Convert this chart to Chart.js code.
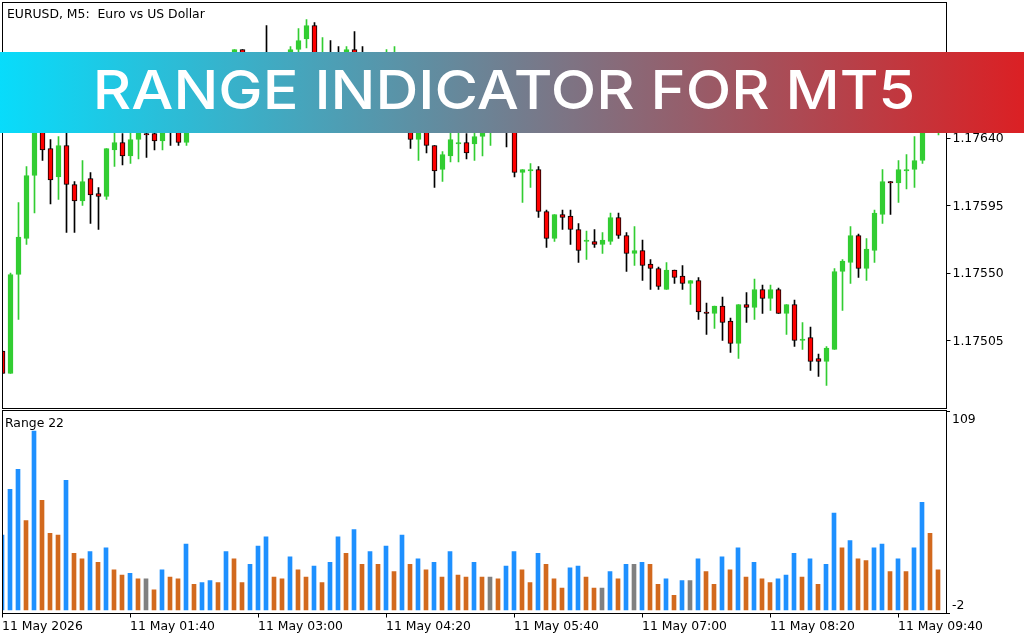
<!DOCTYPE html>
<html>
<head>
<meta charset="utf-8">
<title>Range indicator for MT5</title>
<script src="https://cdn.jsdelivr.net/npm/chart.js@4"></script>
<style>
  html, body { margin: 0; padding: 0; background: #fff; width: 1024px; height: 640px; overflow: hidden; }
  canvas { position: absolute; left: 0; }
  #priceCanvas { top: 0; }
  #rangeCanvas { top: 409px; }
  .caption { position: absolute; font: 12.4px "DejaVu Sans", sans-serif; color: #000; white-space: pre; }
  #banner {
    position: absolute; left: 0; top: 52px; width: 1024px; height: 81px;
    background: linear-gradient(to right, #08dcfb, #db2024);
  }
  #banner span {
    position: absolute; left: 504px; top: 0; white-space: nowrap;
    transform: translateX(-50%) scaleX(1.1);
    color: #fff; font: 500 54px/76px Inter, sans-serif;
  }
</style>
</head>
<body>
<canvas id="priceCanvas" width="1024" height="409"></canvas>
<canvas id="rangeCanvas" width="1024" height="231"></canvas>
<div class="caption" style="left:7px;top:6px">EURUSD, M5:  Euro vs US Dollar</div>
<div class="caption" style="left:5px;top:415px">Range 22</div>
<div id="banner"><span>RANGE INDICATOR FOR MT5</span></div>
<script>
// candles, 5 minute bars. the ones behind the banner are guessed
const opens = [
  1.17498,1.17483,1.17549,1.17573,1.17615,1.17652,1.17633,1.17614,1.17635,1.17609,
  1.17598,1.17613,1.17603,1.17601,1.17632,1.17637,1.17628,1.17639,1.17643,1.17643,
  1.17638,1.17652,1.17645,1.17637,1.17647,1.17659,1.17669,1.17662,1.17679,1.17691,
  1.17699,1.17687,1.17675,1.17687,1.17679,1.17689,1.17693,1.17699,1.17706,1.17715,
  1.17691,1.17695,1.17689,1.17689,1.17699,1.17687,1.17677,1.17682,1.17691,1.17679,
  1.17680,1.17659,1.17639,1.17652,1.17635,1.17619,1.17628,1.17636,1.17637,1.17636,
  1.17641,1.17647,1.17653,1.17669,1.17652,1.17617,1.17618,1.17619,1.17591,1.17573,
  1.17589,1.17588,1.17579,1.17571,1.17571,1.17569,1.17571,1.17587,1.17575,1.17563,
  1.17565,1.17556,1.17553,1.17539,1.17552,1.17548,1.17543,1.17545,1.17524,1.17523,
  1.17528,1.17518,1.17503,1.17529,1.17527,1.17539,1.17533,1.17539,1.17523,1.17529,
  1.17505,1.17507,1.17493,1.17491,1.17499,1.17551,1.17557,1.17575,1.17553,1.17565,
  1.17589,1.17611,1.17610,1.17618,1.17619,1.17625,1.17652,1.17662
];
const closes = [
  1.17483,1.17549,1.17574,1.17615,1.17649,1.17632,1.17612,1.17635,1.17609,1.17598,
  1.17611,1.17602,1.17601,1.17633,1.17637,1.17628,1.17639,1.17649,1.17642,1.17638,
  1.17645,1.17647,1.17637,1.17647,1.17659,1.17669,1.17662,1.17679,1.17691,1.17699,
  1.17685,1.17675,1.17685,1.17679,1.17689,1.17695,1.17699,1.17705,1.17715,1.17691,
  1.17695,1.17687,1.17679,1.17699,1.17685,1.17677,1.17682,1.17691,1.17697,1.17689,
  1.17659,1.17639,1.17653,1.17635,1.17618,1.17629,1.17639,1.17637,1.17630,1.17641,
  1.17649,1.17653,1.17665,1.17651,1.17617,1.17619,1.17619,1.17591,1.17573,1.17589,
  1.17587,1.17579,1.17565,1.17572,1.17569,1.17572,1.17587,1.17575,1.17563,1.17565,
  1.17555,1.17553,1.17541,1.17552,1.17547,1.17543,1.17545,1.17524,1.17523,1.17528,
  1.17517,1.17503,1.17529,1.17527,1.17539,1.17533,1.17539,1.17523,1.17529,1.17505,
  1.17506,1.17491,1.17491,1.17500,1.17551,1.17558,1.17575,1.17553,1.17566,1.17590,
  1.17611,1.17610,1.17619,1.17619,1.17625,1.17652,1.17665,1.17671
];
const highs = [
  1.17498,1.17550,1.17597,1.17621,1.17655,1.17657,1.17639,1.17641,1.17647,1.17611,
  1.17625,1.17617,1.17607,1.17633,1.17647,1.17643,1.17649,1.17653,1.17649,1.17645,
  1.17651,1.17655,1.17649,1.17651,1.17665,1.17673,1.17675,1.17685,1.17695,1.17699,
  1.17699,1.17692,1.17691,1.17715,1.17694,1.17696,1.17701,1.17713,1.17719,1.17717,
  1.17707,1.17705,1.17701,1.17701,1.17711,1.17701,1.17692,1.17695,1.17699,1.17701,
  1.17685,1.17664,1.17660,1.17657,1.17635,1.17631,1.17649,1.17647,1.17643,1.17645,
  1.17652,1.17657,1.17671,1.17673,1.17657,1.17619,1.17623,1.17621,1.17592,1.17589,
  1.17592,1.17592,1.17583,1.17578,1.17579,1.17577,1.17590,1.17590,1.17577,1.17581,
  1.17572,1.17559,1.17554,1.17557,1.17552,1.17555,1.17545,1.17547,1.17530,1.17528,
  1.17534,1.17520,1.17529,1.17537,1.17546,1.17542,1.17542,1.17540,1.17529,1.17532,
  1.17517,1.17514,1.17496,1.17501,1.17553,1.17559,1.17581,1.17576,1.17573,1.17592,
  1.17619,1.17611,1.17625,1.17629,1.17641,1.17657,1.17672,1.17679
];
const lows = [
  1.17483,1.17483,1.17519,1.17569,1.17590,1.17625,1.17596,1.17599,1.17577,1.17577,
  1.17595,1.17583,1.17579,1.17599,1.17621,1.17622,1.17623,1.17626,1.17627,1.17632,
  1.17632,1.17635,1.17635,1.17635,1.17645,1.17655,1.17657,1.17659,1.17673,1.17685,
  1.17679,1.17671,1.17669,1.17673,1.17675,1.17684,1.17688,1.17691,1.17700,1.17685,
  1.17684,1.17680,1.17673,1.17682,1.17680,1.17672,1.17671,1.17675,1.17684,1.17671,
  1.17649,1.17633,1.17625,1.17630,1.17607,1.17611,1.17624,1.17624,1.17626,1.17625,
  1.17628,1.17635,1.17647,1.17634,1.17614,1.17597,1.17607,1.17587,1.17567,1.17571,
  1.17579,1.17569,1.17557,1.17559,1.17567,1.17563,1.17569,1.17573,1.17551,1.17555,
  1.17545,1.17539,1.17539,1.17539,1.17543,1.17539,1.17529,1.17519,1.17509,1.17513,
  1.17505,1.17497,1.17493,1.17517,1.17519,1.17523,1.17525,1.17523,1.17509,1.17501,
  1.17499,1.17485,1.17481,1.17475,1.17499,1.17525,1.17543,1.17547,1.17545,1.17557,
  1.17583,1.17589,1.17597,1.17606,1.17607,1.17623,1.17647,1.17642
];

// Range 22 histogram, u = blue, d = orange, n = gray
const rangeValues = [
  41,66,77,49,98,60,42,41,71,31,
  28,32,26,34,22,19,20,17,17,11,
  22,18,17,36,14,15,16,15,32,28,
  15,25,35,40,18,17,29,22,18,24,
  15,26,40,31,44,25,32,25,35,21,
  41,25,28,22,26,18,32,19,18,26,
  18,18,17,24,32,22,15,31,25,17,
  12,23,24,18,12,12,21,17,25,25,
  26,25,14,17,8,16,16,28,21,14,
  29,22,34,18,26,17,15,17,19,31,
  18,28,14,25,53,34,38,28,27,34,
  36,21,28,21,34,59,42,22
];
const rangeDirs = `
  u u u d u d d d u d
  d u d u d d u d n d
  u d d u d u u d u d
  d u u u d d u d d u
  d u u d u d u d u d
  u d u d u d u d d u
  d n d u u d d u d d
  d u u d d n u d u n
  u d d u d u n u d d
  u d u d u d d u u u
  d u d u u d u d d u
  u d u d u u d d`.trim().split(/\s+/);

const priceTicks = [1.17505, 1.1755, 1.17595, 1.1764, 1.17685];
const rangeTicks = [-2, 109];
const timeLabels = ['11 May 2026', '11 May 01:40', '11 May 03:00', '11 May 04:20',
  '11 May 05:40', '11 May 07:00', '11 May 08:20', '11 May 09:40'];
const barsPerLabel = 16;

const slots = Array.from({ length: 119 }, (_, i) => i);
const font = { family: '"DejaVu Sans"', size: 12.4 };
const GREEN = '#32CD32', RED = '#FF0000', BLACK = '#000000';
const dirColor = { u: '#1E90FF', d: '#D2691E', n: '#808080' };

const isUp = opens.map((o, i) => closes[i] > o);

// black frame round the pane
const framePlugin = {
  id: 'frame',
  afterDatasetsDraw(chart) {
    const a = chart.chartArea, c = chart.ctx;
    const x0 = Math.floor(a.left) + 0.5, x1 = Math.floor(a.right) + 0.5;
    const y0 = Math.floor(a.top - 0.5) + 0.5, y1 = Math.floor(a.bottom) + 0.5;
    c.save();
    c.strokeStyle = BLACK;
    c.lineWidth = 1;
    c.strokeRect(x0, y0, x1 - x0, y1 - y0);
    c.restore();
  }
};

new Chart(document.getElementById('priceCanvas'), {
  type: 'bar',
  data: {
    labels: slots,
    datasets: [
      {
        data: opens.map((o, i) => [o, closes[i]]),
        grouped: false, order: 1, barThickness: 5, borderWidth: 1, borderSkipped: false,
        backgroundColor: isUp.map(u => u ? GREEN : RED),
        borderColor: isUp.map(u => u ? GREEN : BLACK)
      },
      {
        data: lows.map((l, i) => [l, highs[i]]),
        grouped: false, order: 2, barThickness: 1,
        backgroundColor: isUp.map(u => u ? GREEN : BLACK)
      }
    ]
  },
  options: {
    responsive: false,
    animation: false,
    layout: { padding: { left: 2.5, top: 3, right: 0, bottom: 1 } },
    plugins: { legend: { display: false }, tooltip: { enabled: false } },
    scales: {
      x: { display: false, offset: false, grid: { offset: false } },
      y: {
        position: 'right', min: 1.1746, max: 1.1773,
        border: { display: false },
        grid: { drawOnChartArea: false, tickLength: 4, tickColor: BLACK },
        ticks: { color: BLACK, font, padding: 2, labelOffset: 1, callback: v => v.toFixed(5) },
        afterBuildTicks(s) { s.ticks = priceTicks.map(v => ({ value: v })); },
        afterFit(s) { s.width = 77.5; s.paddingTop = 0; s.paddingBottom = 0; }
      }
    }
  },
  plugins: [framePlugin]
});

new Chart(document.getElementById('rangeCanvas'), {
  type: 'bar',
  data: {
    labels: slots,
    datasets: [{
      data: rangeValues,
      barThickness: 4,
      backgroundColor: rangeDirs.map(d => dirColor[d])
    }]
  },
  options: {
    responsive: false,
    animation: false,
    layout: { padding: { left: 2, top: 2, right: 0, bottom: 0 } },
    plugins: { legend: { display: false }, tooltip: { enabled: false } },
    scales: {
      x: {
        offset: false,
        border: { display: false },
        grid: { offset: false, drawOnChartArea: false, tickLength: 4, tickColor: BLACK },
        ticks: {
          color: BLACK, font, padding: 2, align: 'start', autoSkip: false, maxRotation: 0,
          callback: v => timeLabels[v / barsPerLabel]
        },
        afterBuildTicks(s) { s.ticks = s.ticks.filter(t => t.value % barsPerLabel === 0); },
        afterFit(s) { s.height = 26.5; s.paddingLeft = 0; s.paddingRight = 0; }
      },
      y: {
        position: 'right', min: -2, max: 109,
        border: { display: false },
        grid: { drawOnChartArea: false, tickLength: 4, tickColor: BLACK },
        // mt5 keeps these two labels inside the pane, so push them off their ticks
        ticks: {
          color: BLACK, font: { ...font, lineHeight: 1.4 }, padding: 2, labelOffset: 0.5,
          callback: v => v === rangeTicks[1] ? ['', String(v)] : [String(v), '']
        },
        afterBuildTicks(s) { s.ticks = rangeTicks.map(v => ({ value: v })); },
        afterFit(s) { s.width = 78; s.paddingTop = 0; s.paddingBottom = 0; }
      }
    }
  },
  plugins: [framePlugin]
});
</script>
</body>
</html>
